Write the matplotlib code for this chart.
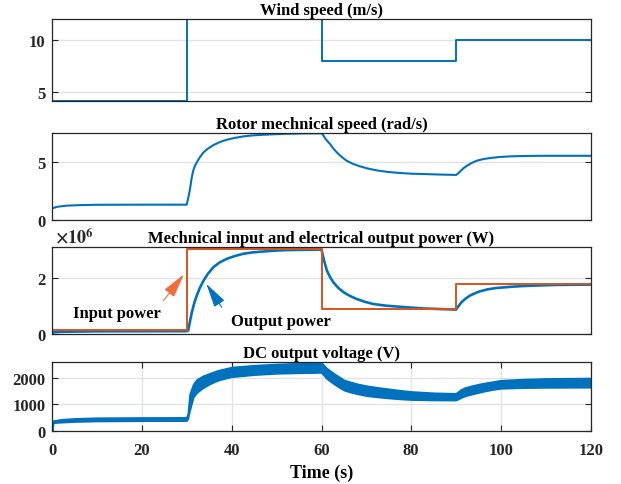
import matplotlib
matplotlib.use("Agg")
import matplotlib.pyplot as plt

# --- data -------------------------------------------------------------------
wind_t = [0, 30, 60, 90, 120]
wind_speed = [4.1, 12, 8, 10, 10]

rotor_t = [0, 1, 3, 6, 10, 20, 29.95, 30.3, 30.7, 31.0, 31.4, 31.8, 32.2, 32.9,
           33.7, 34.7, 35.9, 37.3, 38.9, 40.7, 42.6, 44.7, 47, 49.5, 52.2, 56,
           60, 60.4, 60.8, 61.3, 61.9, 62.6, 63.4, 64.4, 65.6, 67, 68.6, 70.3,
           72.3, 74.8, 77.5, 80, 82.7, 86, 90, 90.5, 91, 91.7, 92.4, 93.5, 94.6,
           96, 97.5, 99.5, 102, 105, 108.7, 120]
rotor_speed = [0.99, 1.12, 1.22, 1.27, 1.3, 1.31, 1.31, 1.9, 2.67, 3.5, 4.27,
               4.7, 5.0, 5.45, 5.87, 6.2, 6.5, 6.76, 6.97, 7.13, 7.26, 7.35,
               7.4, 7.45, 7.49, 7.52, 7.53, 7.35, 7.1, 6.85, 6.6, 6.22, 5.87,
               5.5, 5.14, 4.87, 4.65, 4.46, 4.3, 4.16, 4.07, 4.01, 3.98, 3.94,
               3.9, 4.05, 4.25, 4.5, 4.7, 4.95, 5.14, 5.28, 5.37, 5.46, 5.52,
               5.55, 5.57, 5.57]

p_in_t = [0, 30, 60, 90, 120]
p_in = [0.12e6, 3.02e6, 0.89e6, 1.76e6, 1.76e6]

p_out_t = [0, 0.3, 2, 10, 29.9, 30.3, 30.7, 31.1, 31.6, 32.2, 32.9, 33.7, 34.7,
           35.9, 37.3, 38.9, 40.7, 42.6, 44.7, 47, 49.5, 52.2, 56, 60, 60.5,
           61.2, 61.9, 62.6, 63.7, 64.9, 66.3, 67.8, 69.6, 71.5, 74.3, 77.5,
           82.7, 90, 90.6, 91.2, 92.1, 93.1, 94.2, 95.3, 97, 99, 102, 105,
           108.5, 112.4, 120]
p_out = [0.0, 0.05e6, 0.07e6, 0.085e6, 0.09e6, 0.12e6, 0.45e6, 0.76e6, 1.07e6,
         1.36e6, 1.64e6, 1.89e6, 2.14e6, 2.37e6, 2.54e6, 2.67e6, 2.77e6,
         2.85e6, 2.9e6, 2.93e6, 2.96e6, 2.98e6, 2.99e6, 3.0e6, 2.65e6, 2.25e6,
         2.02e6, 1.84e6, 1.64e6, 1.48e6, 1.35e6, 1.24e6, 1.14e6, 1.06e6, 1.0e6,
         0.96e6, 0.9e6, 0.86e6, 1.0e6, 1.12e6, 1.25e6, 1.36e6, 1.44e6, 1.51e6,
         1.58e6, 1.63e6, 1.67e6, 1.70e6, 1.72e6, 1.74e6, 1.75e6]

dc_t = [0, 0.2, 2, 5, 10, 20, 29.9, 30.2, 30.6, 31.4, 32.2, 33.5, 35, 36, 37,
        38.5, 40, 45, 50, 55, 59.9, 60.5, 61, 62, 63, 64, 65, 66.5, 68, 70,
        72.5, 75, 77.5, 80, 85, 89.9, 90.5, 91, 92, 93.5, 95, 96.5, 98, 100,
        105, 110, 115, 120]
dc_upper = [340, 380, 430, 465, 490, 500, 505, 650, 1390, 1770, 1950, 2080,
            2180, 2240, 2300, 2360, 2420, 2490, 2535, 2565, 2590, 2500, 2400,
            2270, 2150, 2040, 1930, 1850, 1780, 1710, 1645, 1590, 1535, 1490,
            1440, 1420, 1490, 1560, 1640, 1710, 1770, 1820, 1860, 1920, 1960,
            1985, 1995, 2000]
dc_lower = [0, 300, 320, 345, 365, 375, 380, 450, 760, 1270, 1450, 1620, 1770,
            1850, 1920, 1990, 2050, 2130, 2180, 2200, 2215, 2110, 2000, 1870,
            1750, 1640, 1540, 1460, 1400, 1330, 1280, 1240, 1205, 1180, 1165,
            1160, 1205, 1250, 1320, 1390, 1450, 1510, 1560, 1610, 1635, 1645,
            1648, 1650]

time_ticks = [0, 20, 40, 60, 80, 100, 120]
# -----------------------------------------------------------------------------

BLUE = "#0072BD"
ORANGE = "#D95319"

plt.rcParams["font.family"] = "serif"
plt.rcParams["font.serif"] = ["Liberation Serif", "DejaVu Serif"]
plt.rcParams["font.weight"] = "bold"
plt.rcParams["mathtext.fontset"] = "stix"

fig = plt.figure(figsize=(6.21, 4.85), dpi=100)
W, H = 621, 485
left, right = 52.3, 590.7
boxes = [(20.3, 102.3), (134.3, 220.7), (248.3, 334.7), (363.3, 431.6)]
axes = []
for top, bot in boxes:
    ax = fig.add_axes([left / W, 1 - bot / H, (right - left) / W, (bot - top) / H])
    axes.append(ax)


def style(ax, title):
    ax.set_title(title, fontsize=12, fontweight="bold", pad=4)
    ax.set_xlim(0, 120)
    ax.tick_params(direction="in", length=4, width=0.8, top=True, right=True,
                   labelsize=12, colors="#262626")
    ax.tick_params(axis="y", pad=5)
    ax.tick_params(axis="x", pad=8)
    for s in ax.spines.values():
        s.set_color("#262626")
        s.set_linewidth(0.9)
    ax.grid(True, color="#e3e3e3", linewidth=1.0)
    ax.set_axisbelow(True)


ax1, ax2, ax3, ax4 = axes

ax1.plot(wind_t, wind_speed, drawstyle="steps-post", color=BLUE, lw=1.4)
style(ax1, "Wind speed (m/s)")
ax1.set_ylim(4.1, 12)
ax1.set_yticks([5, 10])
ax1.set_xticks([])

ax2.plot(rotor_t, rotor_speed, color=BLUE, lw=1.5)
style(ax2, "Rotor mechnical speed (rad/s)")
ax2.set_ylim(0, 7.53)
ax2.set_yticks([0, 5])
ax2.set_xticks([])

ax3.plot(p_out_t, p_out, color=BLUE, lw=1.9)
ax3.plot(p_in_t, p_in, drawstyle="steps-post", color=ORANGE, lw=1.4)
style(ax3, "Mechnical input and electrical output power (W)")
ax3.set_ylim(0, 3.08e6)
ax3.set_yticks([0, 2e6], ["0", "2"])
ax3.set_xticks([])
ax3.text(0.005, 1.01, r"$\times10^{6}$", transform=ax3.transAxes, fontsize=13,
         ha="left", va="bottom", color="#262626")
ax3.annotate("", xy=(29.7, 2.19e6), xytext=(24.4, 1.1e6),
             arrowprops=dict(arrowstyle="-|>,head_length=1.0,head_width=0.25",
                             color="#F26B3A", lw=0.8, mutation_scale=15))
ax3.annotate("", xy=(34.0, 1.86e6), xytext=(38.1, 0.86e6),
             arrowprops=dict(arrowstyle="-|>,head_length=1.0,head_width=0.25",
                             color=BLUE, lw=0.8, mutation_scale=15))
ax3.text(14.4, 0.73e6, "Input power", fontsize=12, fontweight="bold",
         ha="center", va="center")
ax3.text(50.9, 0.46e6, "Output power", fontsize=12, fontweight="bold",
         ha="center", va="center")

ax4.fill_between(dc_t, dc_lower, dc_upper, color=BLUE, lw=1.2, edgecolor=BLUE)
style(ax4, "DC output voltage (V)")
ax4.set_ylim(0, 2600)
ax4.set_yticks([0, 1000, 2000])
ax4.set_xticks(time_ticks)
ax4.set_xlabel("Time (s)", fontsize=13, fontweight="bold", labelpad=4)

fig.savefig("out.png", dpi=100)
